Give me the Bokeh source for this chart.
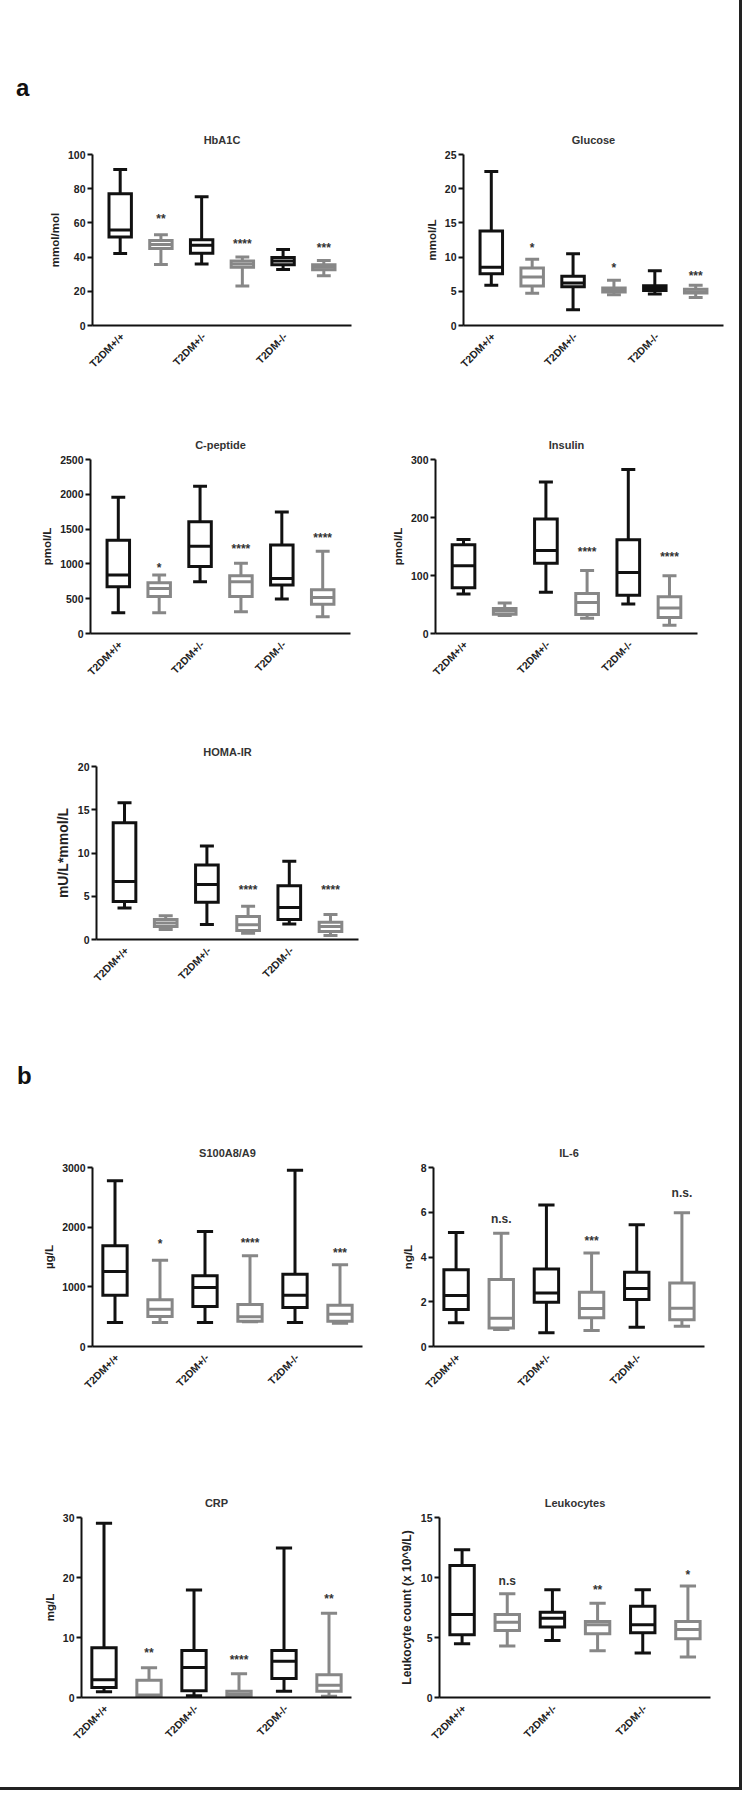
import math
from bokeh.plotting import figure
from bokeh.models import Range1d, FixedTicker, Div, ColumnDataSource
from bokeh.layouts import row, column
from bokeh.embed import file_html
from bokeh.resources import INLINE
from bokeh.core.properties import value
from bokeh.transform import dodge

# ---------------- data (whisker low, Q1, median, Q3, whisker high) ----------------
group_labels = ["T2DM+/+", "T2DM+/-", "T2DM-/-"]

hba1c_stats = [[42.1, 51.8, 55.9, 77.1, 91.3], [35.7, 45.0, 47.4, 49.7, 53.0],
               [35.9, 42.3, 47.0, 50.1, 75.3], [23.1, 34.0, 36.0, 37.7, 40.0],
               [32.8, 35.5, 37.7, 39.8, 44.5], [29.1, 32.6, 34.0, 35.5, 38.0]]
hba1c_sig = ["", "**", "", "****", "", "***"]
hba1c_sig_y = [0, 62, 0, 47.5, 0, 45.5]

glucose_stats = [[5.87, 7.55, 8.5, 13.8, 22.5], [4.7, 5.77, 7.1, 8.4, 9.7],
                 [2.3, 5.67, 6.2, 7.2, 10.5], [4.5, 4.9, 5.2, 5.5, 6.6],
                 [4.6, 5.1, 5.4, 5.8, 8.0], [4.1, 4.75, 4.95, 5.3, 5.87]]
glucose_sig = ["", "*", "", "*", "", "***"]
glucose_sig_y = [0, 11.3, 0, 8.4, 0, 7.2]

cpep_stats = [[297, 672, 840, 1339, 1958], [297, 533, 648, 729, 840],
              [744, 964, 1252, 1607, 2116], [312, 533, 744, 830, 1008],
              [494, 696, 792, 1272, 1747], [240, 422, 518, 629, 1180]]
cpep_sig = ["", "*", "", "****", "", "****"]
cpep_sig_y = [0, 948, 0, 1211, 0, 1369]

insulin_stats = [[68, 79, 117, 153, 162], [31, 33.4, 39, 43, 52.4],
                 [71, 121, 143, 197.5, 261], [26.5, 32.8, 53.5, 69, 108.8],
                 [50.7, 66, 105, 161.8, 282.7], [14.4, 27.6, 43.8, 63.3, 99.6]]
insulin_sig = ["", "", "", "****", "", "****"]
insulin_sig_y = [0, 0, 0, 140, 0, 132.5]

homa_stats = [[3.65, 4.4, 6.7, 13.5, 15.8], [1.15, 1.5, 1.9, 2.3, 2.75],
              [1.73, 4.3, 6.35, 8.6, 10.8], [0.73, 1.04, 1.7, 2.65, 3.85],
              [1.8, 2.3, 3.7, 6.2, 9.05], [0.46, 0.92, 1.5, 2.0, 2.9]]
homa_sig = ["", "", "", "****", "", "****"]
homa_sig_y = [0, 0, 0, 5.77, 0, 5.77]

s100_stats = [[402, 860, 1257, 1687, 2777], [402, 503, 626, 782, 1447],
              [402, 670, 989, 1184, 1927], [413, 425, 497, 704, 1520],
              [402, 654, 860, 1212, 2955], [391, 425, 542, 693, 1369]]
s100_sig = ["", "*", "", "****", "", "***"]
s100_sig_y = [0, 1714, 0, 1742, 0, 1575]

il6_stats = [[1.06, 1.65, 2.28, 3.43, 5.1], [0.76, 0.83, 1.26, 2.99, 5.06],
             [0.61, 1.98, 2.39, 3.46, 6.32], [0.71, 1.28, 1.7, 2.42, 4.18],
             [0.86, 2.1, 2.59, 3.32, 5.44], [0.91, 1.19, 1.71, 2.84, 5.98]]
il6_sig = ["", "n.s.", "", "***", "", "n.s."]
il6_sig_y = [0, 5.69, 0, 4.73, 0, 6.88]

crp_stats = [[0.94, 1.67, 2.94, 8.28, 29.06], [0.17, 0.28, 0.4, 2.89, 4.94],
             [0.28, 1.11, 5.0, 7.83, 17.9], [0.17, 0.28, 0.56, 1.06, 3.94],
             [1.06, 3.17, 6.06, 7.83, 24.9], [0.22, 1.06, 2.06, 3.78, 14.06]]
crp_sig = ["", "**", "", "****", "", "**"]
crp_sig_y = [0, 7.5, 0, 6.2, 0, 16.5]

leuk_stats = [[4.48, 5.23, 6.92, 10.99, 12.32], [4.29, 5.59, 6.28, 6.92, 8.64],
              [4.76, 5.87, 6.61, 7.11, 8.97], [3.9, 5.31, 6.06, 6.34, 7.86],
              [3.71, 5.4, 6.06, 7.61, 8.97], [3.38, 4.9, 5.67, 6.34, 9.3]]
leuk_sig = ["", "n.s", "", "**", "", "*"]
leuk_sig_y = [0, 9.68, 0, 8.94, 0, 10.18]

# ---------------- styling ----------------
FONT = "Liberation Sans"
BLACK = "#111111"
GRAY = "#878787"
TXT = "#222222"


def make_panel(title, ylabel, stats, sig, sig_y, yticks, width, height,
               left, right, top, bottom, xr, box_w, cap_w,
               ylabel_size="11.5px"):
    n = len(stats)
    xs = [i + 1 for i in range(n)]
    colors = [BLACK if i % 2 == 0 else GRAY for i in range(n)]
    src = ColumnDataSource(dict(
        x=xs,
        low=[s[0] for s in stats], q1=[s[1] for s in stats],
        med=[s[2] for s in stats], q3=[s[3] for s in stats],
        high=[s[4] for s in stats], color=colors))

    p = figure(width=width, height=height,
               min_border_left=left, min_border_right=right,
               min_border_top=top, min_border_bottom=bottom,
               x_range=Range1d(*xr), y_range=Range1d(0, yticks[-1]),
               output_backend="svg", toolbar_location=None, tools="")
    p.title.text = title
    p.title.align = "center"
    p.title.text_font = FONT
    p.title.text_font_size = "11px"
    p.title.text_font_style = "bold"
    p.title.text_color = "#333333"
    p.title.standoff = 17

    lw = 3
    p.segment(x0="x", y0="q3", x1="x", y1="high", source=src,
              line_color="color", line_width=lw)
    p.segment(x0="x", y0="low", x1="x", y1="q1", source=src,
              line_color="color", line_width=lw)
    p.segment(x0=dodge("x", -cap_w / 2, range=p.x_range), y0="high",
              x1=dodge("x", cap_w / 2, range=p.x_range), y1="high",
              source=src, line_color="color", line_width=lw)
    p.segment(x0=dodge("x", -cap_w / 2, range=p.x_range), y0="low",
              x1=dodge("x", cap_w / 2, range=p.x_range), y1="low",
              source=src, line_color="color", line_width=lw)
    p.vbar(x="x", width=box_w, bottom="q1", top="q3", source=src,
           fill_color="white", line_color="color", line_width=lw,
           line_join="miter")
    p.segment(x0=dodge("x", -box_w / 2, range=p.x_range), y0="med",
              x1=dodge("x", box_w / 2, range=p.x_range), y1="med",
              source=src, line_color="color", line_width=lw)

    sx = [xs[i] for i in range(n) if sig[i]]
    sy = [sig_y[i] for i in range(n) if sig[i]]
    st = [sig[i] for i in range(n) if sig[i]]
    ssrc = ColumnDataSource(dict(x=sx, y=sy, t=st))
    p.text(x="x", y="y", text="t", source=ssrc, text_align="center",
           text_baseline="middle", text_font=value(FONT),
           text_font_size="12px", text_font_style="bold",
           text_color="#333333")

    # group labels under the x axis (rotated, right end at the group position)
    gsrc = ColumnDataSource(dict(
        x=[2 * i + 1 for i in range(len(group_labels))],
        y=[p.y_range.start] * len(group_labels),
        t=group_labels))
    p.text(x="x", y="y", text="t", source=gsrc, angle=math.pi / 4,
           text_align="right", text_baseline="middle", x_offset=2, y_offset=9,
           text_font=value(FONT), text_font_size="10.5px",
           text_font_style="bold", text_color=TXT, level="overlay")

    # axes
    p.xgrid.visible = False
    p.ygrid.visible = False
    p.outline_line_color = None

    xa = p.xaxis[0]
    xa.ticker = FixedTicker(ticks=[])
    xa.major_tick_out = 0
    xa.major_tick_in = 0
    xa.minor_tick_out = 0
    xa.minor_tick_in = 0
    xa.axis_line_width = 2
    xa.axis_line_color = BLACK

    ya = p.yaxis[0]
    ya.ticker = FixedTicker(ticks=yticks, minor_ticks=[])
    ya.axis_line_width = 2
    ya.axis_line_color = BLACK
    ya.major_tick_line_width = 2
    ya.major_tick_line_color = BLACK
    ya.major_tick_out = 5
    ya.major_tick_in = 0
    ya.minor_tick_out = 0
    ya.minor_tick_in = 0
    ya.major_label_standoff = 2
    ya.major_label_text_font = FONT
    ya.major_label_text_font_size = "10.5px"
    ya.major_label_text_font_style = "bold"
    ya.major_label_text_color = TXT
    ya.axis_label = ylabel
    ya.axis_label_standoff = 4
    ya.axis_label_text_font = FONT
    ya.axis_label_text_font_size = ylabel_size
    ya.axis_label_text_font_style = "bold"
    ya.axis_label_text_color = TXT
    return p


XA = (0.32, 6.68)
XB = (0.5, 6.5)
W = 367

hba1c = make_panel("HbA1C", "mmol/mol", hba1c_stats, hba1c_sig, hba1c_sig_y,
                   [0, 20, 40, 60, 80, 100], W, 302, 92, 16, 44, 87, XA, 0.55, 0.34)
glucose = make_panel("Glucose", "mmol/L", glucose_stats, glucose_sig, glucose_sig_y,
                     [0, 5, 10, 15, 20, 25], W, 302, 96, 11, 42, 87, XA, 0.55, 0.34)
cpep = make_panel("C-peptide", "pmol/L", cpep_stats, cpep_sig, cpep_sig_y,
                  [0, 500, 1000, 1500, 2000, 2500], W, 300, 90, 17, 47, 79, XA, 0.55, 0.34)
insulin = make_panel("Insulin", "pmol/L", insulin_stats, insulin_sig, insulin_sig_y,
                     [0, 100, 200, 300], W, 300, 68, 37, 47, 79, XA, 0.55, 0.34)
homa = make_panel("HOMA-IR", "mU/L*mmol/L", homa_stats, homa_sig, homa_sig_y,
                  [0, 5, 10, 15, 20], W, 290, 96, 9, 54, 63, XA, 0.55, 0.34,
                  ylabel_size="14px")
s100 = make_panel("S100A8/A9", "µg/L", s100_stats, s100_sig, s100_sig_y,
                  [0, 1000, 2000, 3000], W, 330, 92, 5, 45, 106, XB, 0.54, 0.36)
il6 = make_panel("IL-6", "ng/L", il6_stats, il6_sig, il6_sig_y,
                 [0, 2, 4, 6, 8], W, 330, 66, 30, 45, 106, XB, 0.54, 0.36)
crp = make_panel("CRP", "mg/L", crp_stats, crp_sig, crp_sig_y,
                 [0, 10, 20, 30], W, 330, 81, 16, 65, 85, XB, 0.54, 0.36)
leuk = make_panel("Leukocytes", "Leukocyte count (x 10^9/L)", leuk_stats, leuk_sig,
                  leuk_sig_y, [0, 5, 10, 15], W, 330, 72, 24, 65, 85, XB, 0.54, 0.36,
                  ylabel_size="12px")

label_css = ("font-family:'Liberation Sans';font-weight:bold;font-size:24px;"
             "line-height:28px;color:#111;")
div_a = Div(text=f'<div style="{label_css}padding:74px 0 0 16px">a</div>',
            width=734, height=110, margin=(0, 0, 0, 0))
div_b = Div(text=f'<div style="{label_css}padding:60px 0 0 17px">b</div>',
            width=734, height=120, margin=(0, 0, 0, 0))

layout = column(div_a, row(hba1c, glucose), row(cpep, insulin), row(homa),
                div_b, row(s100, il6), row(crp, leuk),
                styles={"outline": "3px solid #222", "outline-offset": "5px"})

open("out.html", "w").write(file_html(layout, INLINE))
